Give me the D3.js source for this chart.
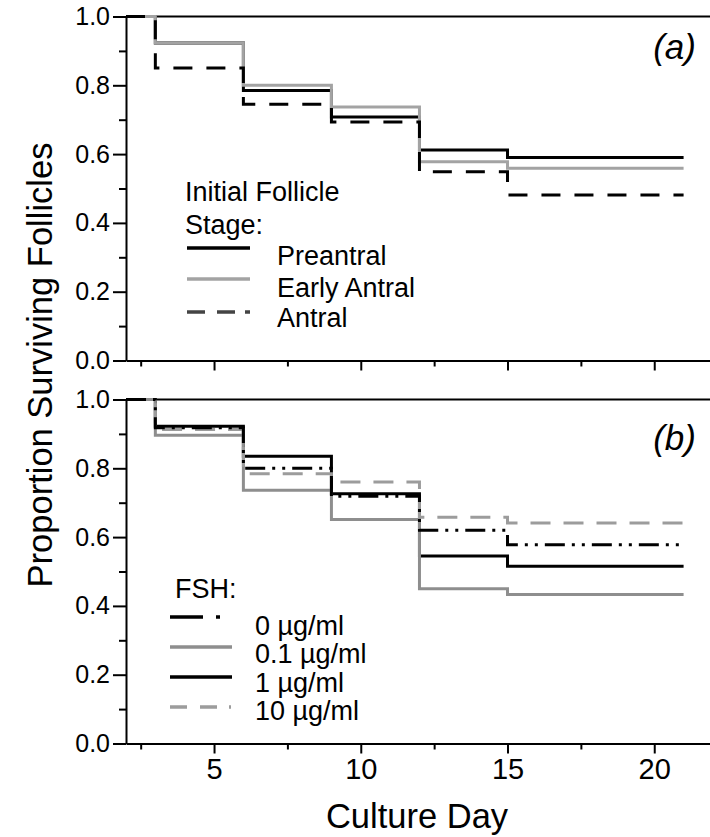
<!DOCTYPE html>
<html>
<head>
<meta charset="utf-8">
<script src="https://cdn.jsdelivr.net/npm/d3@7"></script>
<style>
  body { margin: 0; background: #fff; }
  text { font-family: "Liberation Sans", Arial, sans-serif; fill: #000; }
</style>
</head>
<body>
<div class="chart"></div>
<script>
// culture days where the step curves change (last one = end of culture)
var days = [2, 3, 6, 9, 12, 15, 21];

// panel (a): initial follicle stage
var preantral   = [1.0, 0.923, 0.785, 0.708, 0.612, 0.590, 0.590];
var earlyAntral = [1.0, 0.923, 0.800, 0.737, 0.578, 0.559, 0.559];
var antral      = [1.0, 0.850, 0.745, 0.693, 0.549, 0.481, 0.481];

// panel (b): FSH dose
var fsh0   = [1.0, 0.918, 0.800, 0.719, 0.620, 0.578, 0.578];
var fsh01  = [1.0, 0.896, 0.736, 0.651, 0.450, 0.433, 0.433];
var fsh1   = [1.0, 0.922, 0.835, 0.726, 0.545, 0.515, 0.515];
var fsh10  = [1.0, 0.913, 0.784, 0.760, 0.658, 0.641, 0.641];

var yTicks = [0, 0.2, 0.4, 0.6, 0.8, 1.0];
var yMinor = [0.1, 0.3, 0.5, 0.7, 0.9];
var xTicks = [5, 10, 15, 20];
var xMinor = [2.5, 7.5, 12.5, 17.5];

var svgWidth = 710;
var svgHeight = 837;

var svg = d3.select(".chart")
  .append("svg")
  .attr("width", svgWidth)
  .attr("height", svgHeight);

var xScale = d3.scaleLinear().domain([2, 21.9]).range([126, 710]);
var yTop = d3.scaleLinear().domain([0, 1]).range([360.5, 16.5]);
var yBot = d3.scaleLinear().domain([0, 1]).range([743.5, 399.5]);

function drawAxes(y, showLabels) {
  var g = svg.append("g");

  // minor y ticks
  g.append("g")
    .attr("transform", "translate(126,0)")
    .call(d3.axisLeft(y).tickValues(yMinor).tickSize(7).tickFormat(""))
    .call(a => a.select(".domain").remove());
  g.append("g")
    .attr("class", "yaxis")
    .attr("transform", "translate(126,0)")
    .call(d3.axisLeft(y).tickValues(yTicks).tickSize(13).tickSizeOuter(0)
      .tickPadding(3).tickFormat(d3.format(".1f")));

  // minor x ticks
  g.append("g")
    .attr("transform", `translate(0,${y(0)})`)
    .call(d3.axisBottom(xScale).tickValues(xMinor).tickSize(6).tickFormat(""))
    .call(a => a.select(".domain").remove());
  g.append("g")
    .attr("class", "xaxis")
    .attr("transform", `translate(0,${y(0)})`)
    .call(d3.axisBottom(xScale).tickValues(xTicks).tickSize(10).tickSizeOuter(0)
      .tickPadding(5).tickFormat(showLabels ? d3.format("d") : ""));

  // top frame line
  g.append("line")
    .attr("x1", xScale(2)).attr("x2", svgWidth)
    .attr("y1", y(1)).attr("y2", y(1));

  g.selectAll("path, line").attr("stroke", "#000").attr("stroke-width", 2);
  g.selectAll(".yaxis text").style("font-size", "25px");
  g.selectAll(".xaxis text").style("font-size", "29px");
}

drawAxes(yTop, false);
drawAxes(yBot, true);

function drawStep(y, values, color, dash) {
  var line = d3.line()
    .x((d, i) => xScale(days[i]))
    .y(d => y(d))
    .curve(d3.curveStepAfter);
  svg.append("path")
    .datum(values)
    .attr("d", line)
    .attr("fill", "none")
    .attr("stroke", color)
    .attr("stroke-width", 3)
    .attr("stroke-dasharray", dash || null);
}

drawStep(yTop, preantral, "#000");
drawStep(yTop, earlyAntral, "#a3a3a3");
drawStep(yTop, antral, "#000", "19,14");

drawStep(yBot, fsh1, "#000");
drawStep(yBot, fsh01, "#8e8e8e");
drawStep(yBot, fsh10, "#9c9c9c", "20,13");
drawStep(yBot, fsh0, "#000", "20,7,3,7,3,7");

// legend (a)
svg.append("text").attr("x", 185).attr("y", 201).style("font-size", "27px").text("Initial Follicle");
svg.append("text").attr("x", 185).attr("y", 234).style("font-size", "27px").text("Stage:");

var legA = [
  {name: "Preantral", color: "#000", dash: null, ly: 248, ty: 265},
  {name: "Early Antral", color: "#a3a3a3", dash: null, ly: 279, ty: 297},
  {name: "Antral", color: "#444", dash: "18,12,18,10,5,20", ly: 312, ty: 327}
];
legA.forEach(function(d) {
  svg.append("line")
    .attr("x1", 187).attr("x2", 250)
    .attr("y1", d.ly).attr("y2", d.ly)
    .attr("stroke", d.color).attr("stroke-width", 3.5)
    .attr("stroke-dasharray", d.dash);
  svg.append("text").attr("x", 277).attr("y", d.ty).style("font-size", "27px").text(d.name);
});

// legend (b)
svg.append("text").attr("x", 175).attr("y", 598).style("font-size", "27px").text("FSH:");

var legB = [
  {name: "0 µg/ml", color: "#000", dash: "33,13,4,20", ly: 617, ty: 635},
  {name: "0.1 µg/ml", color: "#8e8e8e", dash: null, ly: 647, ty: 663},
  {name: "1 µg/ml", color: "#000", dash: null, ly: 677, ty: 692},
  {name: "10 µg/ml", color: "#9c9c9c", dash: "17,13,17,12,2,20", ly: 707, ty: 720}
];
legB.forEach(function(d) {
  svg.append("line")
    .attr("x1", 170).attr("x2", 232)
    .attr("y1", d.ly).attr("y2", d.ly)
    .attr("stroke", d.color).attr("stroke-width", 3.5)
    .attr("stroke-dasharray", d.dash);
  svg.append("text").attr("x", 255).attr("y", d.ty).style("font-size", "27px").text(d.name);
});

// panel labels
svg.append("text").attr("x", 696).attr("y", 59)
  .style("font-size", "35px").style("font-style", "italic")
  .attr("text-anchor", "end").text("(a)");
svg.append("text").attr("x", 696).attr("y", 450)
  .style("font-size", "35px").style("font-style", "italic")
  .attr("text-anchor", "end").text("(b)");

// axis titles
svg.append("text")
  .attr("transform", "translate(52, 365) rotate(-90)")
  .attr("text-anchor", "middle")
  .style("font-size", "34.5px")
  .text("Proportion Surviving Follicles");

svg.append("text")
  .attr("x", 417).attr("y", 828)
  .attr("text-anchor", "middle")
  .style("font-size", "34.5px")
  .text("Culture Day");
</script>
</body>
</html>
